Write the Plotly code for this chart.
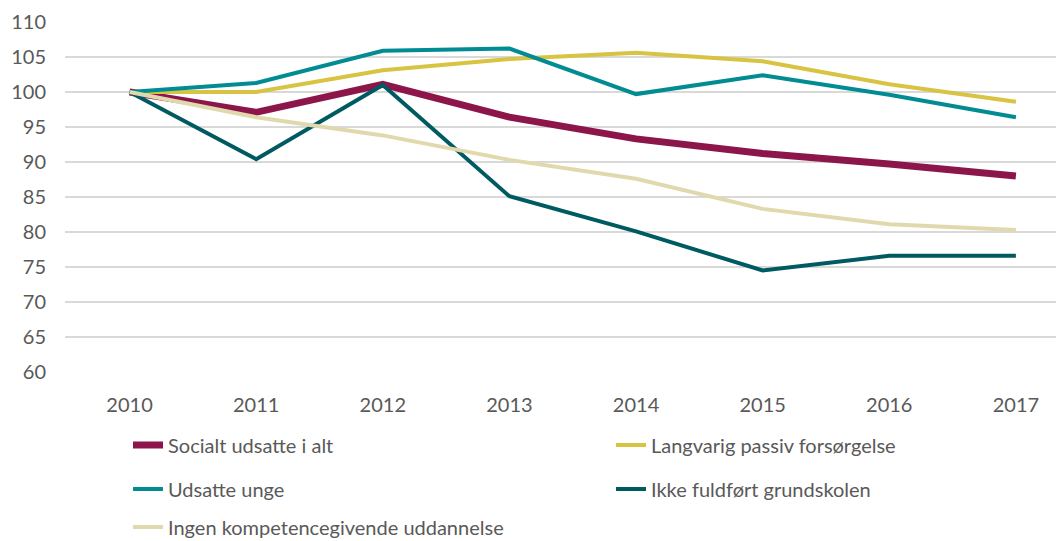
import plotly.graph_objects as go

years = [2010, 2011, 2012, 2013, 2014, 2015, 2016, 2017]
socialt = [100, 97.1, 101.1, 96.4, 93.3, 91.2, 89.7, 88.0]
langvarig = [100, 100.0, 103.1, 104.7, 105.6, 104.4, 101.1, 98.6]
udsatte_unge = [100, 101.3, 105.9, 106.2, 99.7, 102.4, 99.6, 96.4]
ikke_fuldfort = [100, 90.4, 101.0, 85.1, 80.1, 74.5, 76.6, 76.6]
ingen_komp = [100, 96.4, 93.8, 90.3, 87.6, 83.3, 81.1, 80.3]
y_ticks = [60, 65, 70, 75, 80, 85, 90, 95, 100, 105, 110]

series = [
    ("Socialt udsatte i alt", socialt, "#8C1549", 7, "legend"),
    ("Langvarig passiv forsørgelse", langvarig, "#D8C342", 4, "legend2"),
    ("Udsatte unge", udsatte_unge, "#008C92", 4, "legend3"),
    ("Ikke fuldført grundskolen", ikke_fuldfort, "#005A62", 4, "legend4"),
    ("Ingen kompetencegivende uddannelse", ingen_komp, "#E1D9AE", 4, "legend5"),
]

# page has an 8px body margin, so the figure is drawn 8px smaller
W, H = 1056, 533
fig = go.Figure()
for name, vals, color, width, lg in series:
    fig.add_trace(go.Scatter(
        x=years, y=vals, name=name, mode="lines",
        line=dict(color=color, width=width),
        legend=lg, showlegend=True,
    ))

font = dict(family="Lato, Open Sans, sans-serif", size=20, color="#595959")
legend_pos = {
    "legend": (120, 437),
    "legend2": (603, 437),
    "legend3": (120, 481),
    "legend4": (603, 481),
    "legend5": (120, 519),
}
layout_legends = {}
for key, (px, py) in legend_pos.items():
    layout_legends[key] = dict(
        x=px / W, y=1 - py / H, xref="container", yref="container",
        xanchor="left", yanchor="middle", font=font,
        bgcolor="rgba(0,0,0,0)", borderwidth=0,
    )

fig.update_layout(
    width=W, height=H,
    margin=dict(l=57, r=0, t=14, b=169, autoexpand=False),
    paper_bgcolor="white", plot_bgcolor="white",
    font=font,
    **layout_legends,
)
fig.update_xaxes(
    range=[2009.49, 2017.38], tickvals=years, ticktext=[str(y) for y in years],
    showgrid=False, showline=False, zeroline=False, tickangle=0,
    ticklabelstandoff=19, tickfont=font, automargin=False,
)
fig.update_yaxes(
    range=[60, 110], tickvals=y_ticks, showgrid=True, gridcolor="#D9D9D9",
    gridwidth=1.5, zeroline=False, showline=False,
    ticklabelstandoff=18, tickfont=font, automargin=False,
)
fig.write_html("out.html")
